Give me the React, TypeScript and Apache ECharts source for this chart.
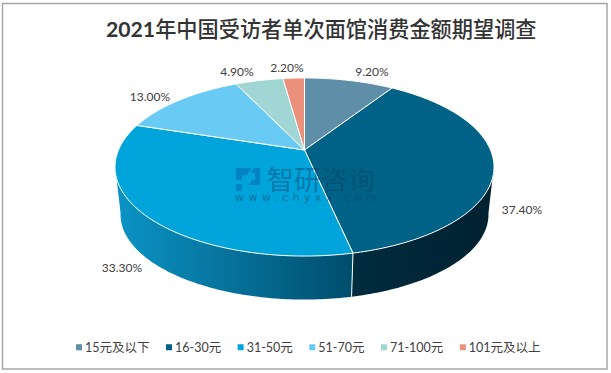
import React, { useEffect, useRef } from "react";
import * as echarts from "echarts";

const TITLE = "2021年中国受访者单次面馆消费金额期望调查";
const TITLE_YEAR = "2021";
const categories = ["15元及以下", "16-30元", "31-50元", "51-70元", "71-100元", "101元及以上"];
const shares = [9.2, 37.4, 33.3, 13.0, 4.9, 2.2];
const faceColors = ["#5F8FA8", "#006286", "#00A3DA", "#69CBF4", "#A0D6D4", "#EB917B"];
const wallStops: string[][] = [
  ["#3d6d84", "#3d6d84"],
  ["#002c3f", "#002130"],
  ["#0B94C6", "#004D6C"],
  ["#3f9fc8", "#3f9fc8"],
  ["#74a9a8", "#74a9a8"],
  ["#b86a55", "#b86a55"],
];
const labelCentres: number[][] = [
  [372, 71],
  [522, 209],
  [122, 267],
  [150, 96],
  [237, 71],
  [287, 67],
];

// Perspective projection of the pie's disc.
const K = 0.191;
const TOP = { cx: 304.5, cy: 150, a: 186, b: 85.8 };
const BOTTOM = { cx: 304.5, cy: 198.3, a: 180.6, b: 81.9 };
const FRONT_FROM = 100;
const FRONT_TO = 260;

function project(f: typeof TOP, deg: number): number[] {
  const t = (deg * Math.PI) / 180;
  const u = Math.sin(t);
  const v = Math.cos(t);
  const d = 1 + K * v;
  return [f.cx + (f.a * u) / d, f.cy - (f.b * v) / d];
}

function arc(f: typeof TOP, from: number, to: number): number[][] {
  const pts: number[][] = [];
  const n = Math.max(2, Math.ceil(to - from));
  for (let i = 0; i <= n; i++) pts.push(project(f, from + ((to - from) * i) / n));
  return pts;
}

const total = shares.reduce((s, v) => s + v, 0);
function startAngle(i: number): number {
  return (shares.slice(0, i).reduce((s, v) => s + v, 0) / total) * 360;
}

function makeSeries(i: number) {
  return {
    type: "custom",
    name: categories[i],
    coordinateSystem: "none",
    itemStyle: { color: faceColors[i] },
    data: [shares[i]],
    silent: true,
    renderItem: (_p: any, api: any) => {
      const from = startAngle(i);
      const to = from + (api.value(0) / total) * 360;
      const children: any[] = [];
      const wf = Math.max(from, FRONT_FROM);
      const wt = Math.min(to, FRONT_TO);
      if (wt > wf) {
        children.push({
          type: "polygon",
          z2: 1,
          shape: { points: [...arc(TOP, wf, wt), ...arc(BOTTOM, wf, wt).reverse()] },
          style: {
            fill: new echarts.graphic.LinearGradient(0, 0, 1, 0, [
              { offset: 0, color: wallStops[i][0] },
              { offset: 1, color: wallStops[i][1] },
            ]),
          },
        });
        if (from >= FRONT_FROM) {
          const p = project(TOP, from);
          const q = project(BOTTOM, from);
          children.push({
            type: "line",
            z2: 2,
            shape: { x1: p[0], y1: p[1], x2: q[0], y2: q[1] },
            style: { stroke: "#ffffff", lineWidth: 1 },
          });
        }
      }
      children.push({
        type: "polygon",
        z2: 3,
        shape: { points: [[TOP.cx, TOP.cy], ...arc(TOP, from, to)] },
        style: { fill: faceColors[i], stroke: "#ffffff", lineWidth: 1, lineJoin: "round" },
      });
      children.push({
        type: "text",
        z2: 6,
        style: {
          text: api.value(0).toFixed(2) + "%",
          x: labelCentres[i][0],
          y: labelCentres[i][1],
          align: "center",
          verticalAlign: "middle",
          fill: "#404040",
          font: '12px Lato, "Noto Sans CJK SC", sans-serif',
        },
      });
      return { type: "group", children };
    },
  };
}

echarts.graphic.registerShape(
  "chyxxLogo",
  echarts.graphic.extendPath(
    "M0 0H15L11 7H6V12H0Z M0 16H6V23H0Z M18 0H24V17H13L16 12H19V5H15Z",
    {},
  ),
);

export default function App() {
  const ref = useRef<HTMLDivElement>(null);
  useEffect(() => {
    document.body.style.margin = "0";
    const chart = echarts.init(ref.current!, null, { renderer: "svg" });
    chart.setOption({
      animation: false,
      backgroundColor: "#ffffff",
      title: {
        text: TITLE,
        left: 106,
        top: 18,
        padding: 0,
        textStyle: {
          fontFamily: 'Lato, "Noto Sans CJK SC", sans-serif',
          fontSize: 21.2,
          fontWeight: 500,
          color: "#333333",
        },
      },
      legend: {
        left: 76,
        top: 341,
        padding: 0,
        icon: "rect",
        itemWidth: 6,
        itemHeight: 6,
        itemGap: 16.5,
        selectedMode: false,
        data: categories,
        textStyle: {
          fontFamily: 'Lato, "Noto Sans CJK SC", sans-serif',
          fontSize: 12.5,
          color: "#404040",
          padding: [0, 0, 0, -2],
        },
      },
      graphic: [
        {
          type: "rect",
          silent: true,
          z: -1,
          shape: { x: 2.5, y: 3.5, width: 604.5, height: 365.5 },
          style: { fill: "#ffffff", stroke: "#a6a6a6", lineWidth: 1.5 },
        },
        {
          type: "chyxxLogo",
          silent: true,
          z: 50,
          x: 236,
          y: 168,
          style: { fill: "rgba(0,90,170,0.45)" },
        },
        {
          type: "text",
          silent: true,
          z: 50,
          x: 267,
          y: 165,
          style: {
            text: "智研咨询",
            fill: "rgba(0,60,100,0.42)",
            font: '27px "Noto Sans CJK SC", sans-serif',
          },
        },
        {
          type: "text",
          silent: true,
          z: 50,
          x: 235,
          y: 192,
          style: {
            text: "www.chyxx.com",
            fill: "rgba(0,60,100,0.5)",
            font: '11px "DejaVu Sans", sans-serif',
          },
        },
      ],
      series: categories.map((_c, i) => makeSeries(i)),
    });
    ref.current!.querySelectorAll("text").forEach((t) => {
      if (t.textContent === "www.chyxx.com") t.style.letterSpacing = "4.4px";
      if (t.textContent === TITLE) {
        const rest = TITLE.slice(TITLE_YEAR.length);
        t.textContent = "";
        const ns = "http://www.w3.org/2000/svg";
        const b = document.createElementNS(ns, "tspan");
        b.setAttribute("font-weight", "700");
        b.textContent = TITLE_YEAR;
        t.appendChild(b);
        t.appendChild(document.createTextNode(rest));
      }
    });
    return () => chart.dispose();
  }, []);
  return <div ref={ref} style={{ width: 611, height: 373 }} />;
}
